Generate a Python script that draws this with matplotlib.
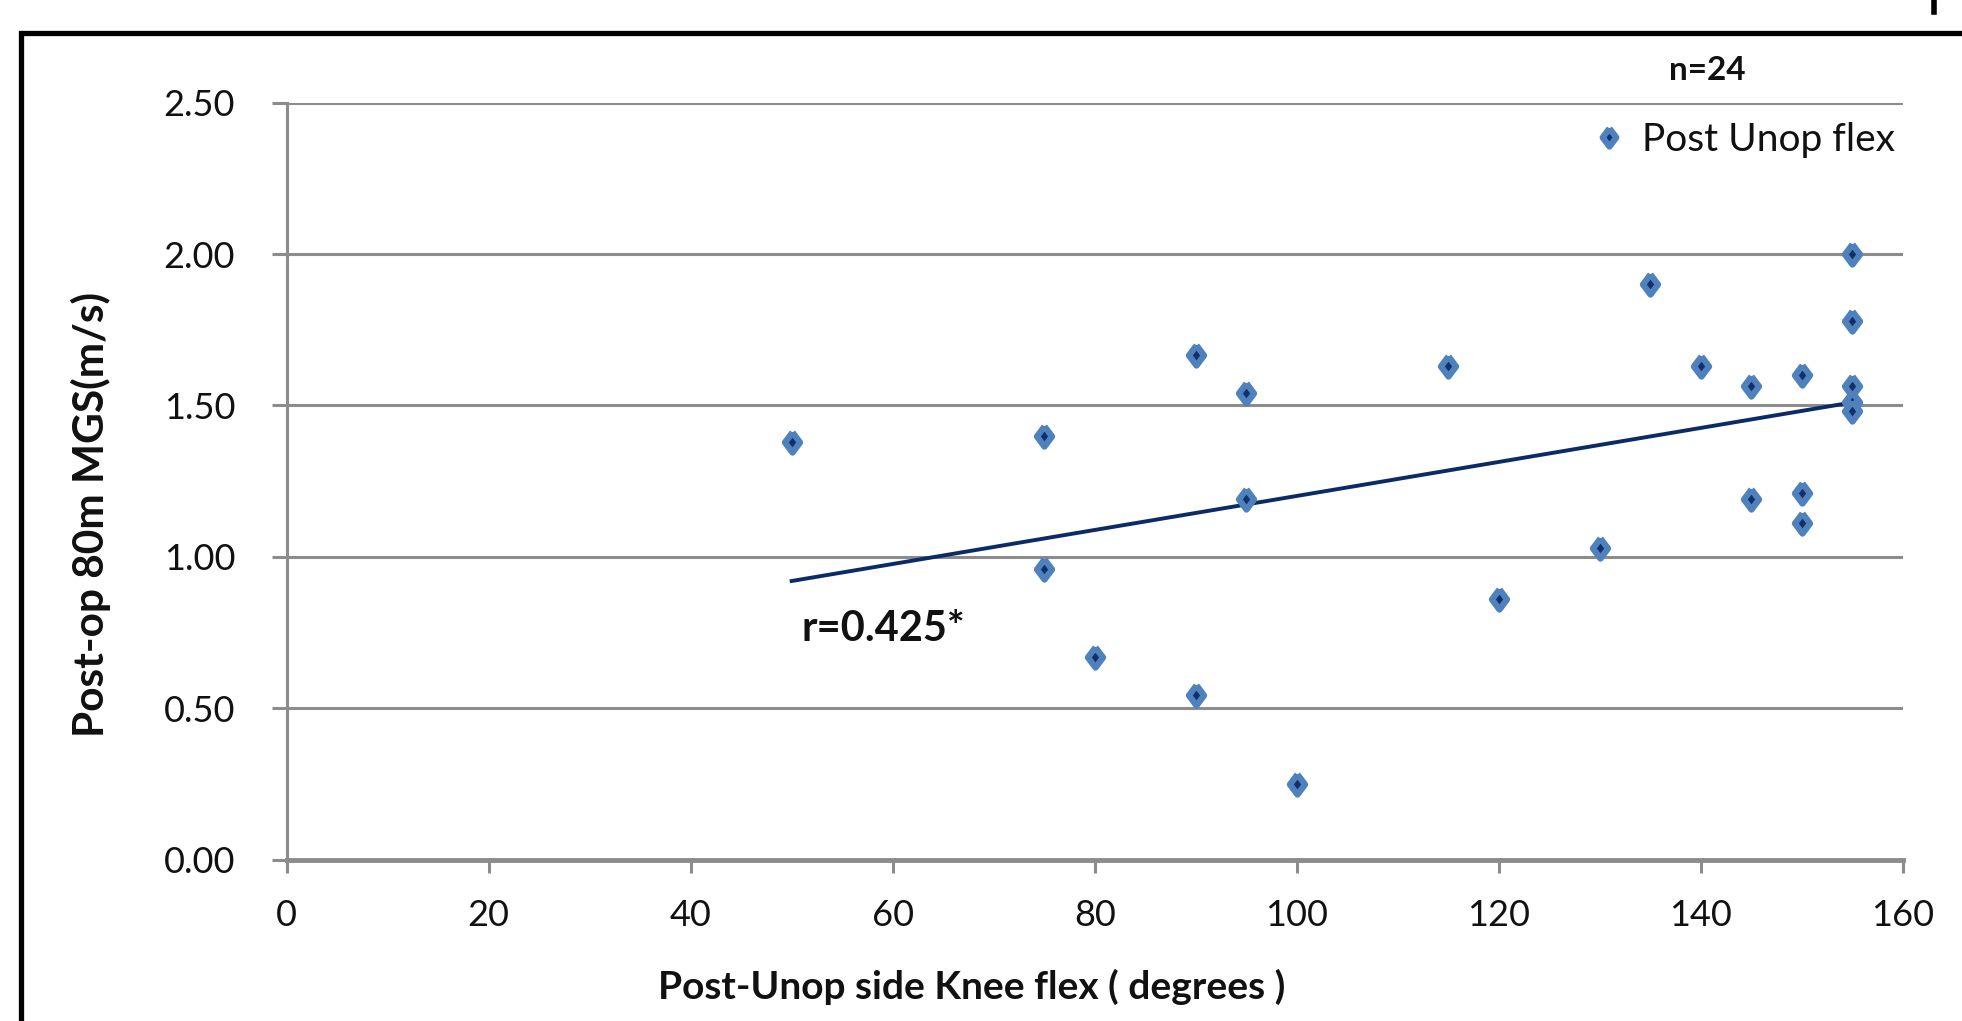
import numpy as np
import matplotlib
matplotlib.use("Agg")
import matplotlib.pyplot as plt
from matplotlib.patches import Rectangle
from matplotlib.lines import Line2D

plt.rcParams['font.family'] = ['Lato', 'DejaVu Sans']

# Post-Unop side knee flexion (degrees) vs post-op 80m MGS (m/s)
knee_flex = [50, 75, 75, 80, 90, 90, 95, 95, 100, 115, 120, 130,
             135, 140, 145, 145, 150, 150, 150, 155, 155, 155, 155, 155]
mgs = [1.38, 1.40, 0.96, 0.67, 1.665, 0.545, 1.54, 1.19, 0.25, 1.63, 0.86, 1.03,
       1.90, 1.63, 1.565, 1.19, 1.60, 1.21, 1.11, 2.00, 1.78, 1.565, 1.51, 1.48]
x_ticks = [0, 20, 40, 60, 80, 100, 120, 140, 160]
y_ticks = [0.0, 0.5, 1.0, 1.5, 2.0, 2.5]

W, H = 1962, 1021
fig = plt.figure(figsize=(W / 100, H / 100), dpi=100)
ax = fig.add_axes([286.5 / W, 1 - 859.6 / H, (1903 - 286.5) / W, (859.6 - 102.6) / H])

grid_c = '#8c8c8c'
light = '#4f81bd'
dark = '#12306a'
txt_c = '#111111'

# diamond marker, a bit taller than wide
diamond = [(0, 1), (0.75, 0), (0, -1), (-0.75, 0), (0, 1)]

ax.plot(knee_flex, mgs, linestyle='none', marker=diamond, markersize=14.5,
        markerfacecolor=dark, markeredgecolor=light, markeredgewidth=4.5,
        zorder=4, label='Post Unop flex')

# linear trend line
k, b = np.polyfit(knee_flex, mgs, 1)
xs = np.array([min(knee_flex), max(knee_flex)])
ax.plot(xs, k * xs + b, color='#0b2a66', lw=2.8, zorder=3)

ax.set_xlim(0, 160)
ax.set_ylim(0, 2.5)
ax.set_xticks(x_ticks)
ax.set_yticks(y_ticks)
ax.set_yticklabels([f"{v:.2f}" for v in y_ticks])
ax.grid(axis='y', color=grid_c, lw=2.2)
ax.set_axisbelow(True)

for s in ['top', 'right']:
    ax.spines[s].set_visible(False)
ax.spines['left'].set_color(grid_c)
ax.spines['left'].set_linewidth(2.2)
ax.spines['bottom'].set_color(grid_c)
ax.spines['bottom'].set_linewidth(3.5)

ax.tick_params(axis='y', length=11, width=2.2, color=grid_c, pad=26,
               labelsize=26, labelcolor=txt_c)
ax.tick_params(axis='x', length=9.5, width=2.2, color=grid_c, pad=19,
               labelsize=26, labelcolor=txt_c)

leg = ax.legend(loc='upper right', bbox_to_anchor=(1.0, 0.985), frameon=False,
                fontsize=28, handlelength=0.8, handletextpad=0.45,
                borderaxespad=0.2, borderpad=0.0, markerscale=0.9)
for t in leg.get_texts():
    t.set_color(txt_c)

fig.text(1707 / W, 1 - 71 / H, 'n=24', fontsize=24, fontweight='bold',
         ha='center', va='center', color=txt_c)
ax.text(51, 0.76, 'r=0.425*', fontsize=30, fontweight='bold', ha='left',
        va='center', color=txt_c)

fig.text(972 / W, 1 - 987 / H, 'Post-Unop side Knee flex ( degrees )',
         fontsize=28, fontweight='bold', ha='center', va='center', color=txt_c)
fig.text(91 / W, 1 - 514 / H, 'Post-op 80m MGS(m/s)', fontsize=30.5,
         fontweight='bold', rotation=90, ha='center', va='center', color=txt_c)

# outer chart border (cropped at right and bottom)
fig.patches.append(Rectangle((20.5 / W, -0.1), 1.2, 1 - 33.5 / H + 0.1,
                             transform=fig.transFigure, fill=False,
                             edgecolor='black', lw=3.8))
fig.lines.append(Line2D([1933.5 / W, 1933.5 / W], [1 - 12 / H, 1.0],
                        transform=fig.transFigure, color='black', lw=4))

fig.savefig('out.png', dpi=100)
